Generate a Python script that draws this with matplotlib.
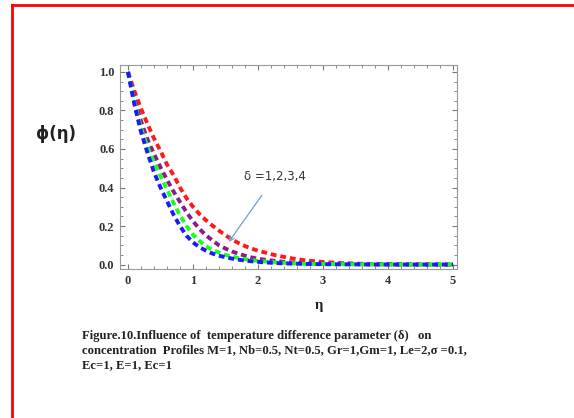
import matplotlib

matplotlib.use("Agg")
import matplotlib.pyplot as plt  # noqa: E402
from matplotlib.lines import Line2D  # noqa: E402
from matplotlib.ticker import MultipleLocator  # noqa: E402

eta = [0.0, 0.1, 0.2, 0.3, 0.4, 0.5, 0.6, 0.7, 0.8, 0.9, 1.0,
       1.1, 1.2, 1.3, 1.4, 1.5, 1.6, 1.7, 1.8, 1.9, 2.0,
       2.25, 2.5, 2.75, 3.0, 3.25, 3.5, 3.75, 4.0, 4.25, 4.5, 4.75, 5.0]

phi_d1 = [1.0, 0.90, 0.81, 0.73, 0.655, 0.59, 0.52, 0.465, 0.40, 0.345, 0.30,
          0.262, 0.230, 0.202, 0.176, 0.152, 0.130, 0.112, 0.096, 0.083, 0.072,
          0.050, 0.033, 0.021, 0.013, 0.008, 0.005, 0.003, 0.002, 0.001, 0.001, 0.0, 0.0]
phi_d2 = [1.0, 0.86, 0.745, 0.65, 0.575, 0.505, 0.44, 0.38, 0.325, 0.272, 0.225,
          0.185, 0.152, 0.125, 0.100, 0.083, 0.068, 0.056, 0.046, 0.037, 0.030,
          0.019, 0.011, 0.007, 0.004, 0.003, 0.002, 0.001, 0.001, 0.0, 0.0, 0.0, 0.0]
phi_d3 = [1.0, 0.84, 0.71, 0.61, 0.53, 0.46, 0.39, 0.32, 0.255, 0.20, 0.155,
          0.122, 0.095, 0.076, 0.062, 0.050, 0.041, 0.034, 0.028, 0.023, 0.019,
          0.012, 0.007, 0.004, 0.003, 0.002, 0.001, 0.001, 0.0, 0.0, 0.0, 0.0, 0.0]
phi_d4 = [1.0, 0.83, 0.69, 0.58, 0.48, 0.40, 0.33, 0.26, 0.20, 0.15, 0.115,
          0.090, 0.072, 0.057, 0.046, 0.038, 0.031, 0.025, 0.021, 0.017, 0.014,
          0.008, 0.005, 0.003, 0.002, 0.001, 0.001, 0.0, 0.0, 0.0, 0.0, 0.0, 0.0]

series = [(phi_d1, "#ff1a1a"), (phi_d2, "#8b1a8b"), (phi_d3, "#1aff1a"), (phi_d4, "#1a1aff")]

caption = ("Figure.10.Influence of  temperature difference parameter (\u03b4)   on\n"
           "concentration  Profiles M=1, Nb=0.5, Nt=0.5, Gr=1,Gm=1, Le=2,\u03c3 =0.1,\n"
           "Ec=1, E=1, Ec=1")

fig = plt.figure(figsize=(5.74, 4.18), dpi=100)
ax = fig.add_axes([0.209, 0.3565, 0.587, 0.488])

for values, color in series:
    ax.plot(eta, values, color=color, linewidth=2.8, dashes=(1.5, 1.0))

ax.set_xlim(-0.123, 5.06)
ax.set_ylim(-0.023, 1.036)
ax.xaxis.set_major_locator(MultipleLocator(1))
ax.xaxis.set_minor_locator(MultipleLocator(0.2))
ax.yaxis.set_major_locator(MultipleLocator(0.2))
ax.yaxis.set_minor_locator(MultipleLocator(0.05))
ax.tick_params(which="both", direction="in", top=True, right=True, color="#777777")
ax.tick_params(which="major", length=3.5, width=0.8, pad=4)
ax.tick_params(which="minor", length=2, width=0.6)
for spine in ax.spines.values():
    spine.set_color("#999999")
    spine.set_linewidth(0.8)
for label in ax.get_xticklabels() + ax.get_yticklabels():
    label.set_fontfamily("Liberation Serif")
    label.set_fontweight("bold")
    label.set_fontsize(9)
    label.set_color("#333333")

fig.text(0.097, 0.68, "\u03d5(\u03b7)", fontsize=12, fontweight="bold",
         family="DejaVu Sans", ha="center", va="center", color="#222222")
fig.text(0.555, 0.27, "\u03b7", fontsize=10.5, fontweight="bold",
         family="Liberation Serif", ha="center", va="center", color="#222222")

ax.annotate("\u03b4 =1,2,3,4", xy=(1.55, 0.117), xytext=(2.26, 0.455),
            fontsize=8.5, family="DejaVu Sans", color="#333333", ha="center", va="center",
            arrowprops=dict(arrowstyle="->", color="#6f9fd8", lw=0.9,
                            shrinkA=8, shrinkB=0))

fig.text(0.143, 0.162, caption, fontsize=9.1, fontweight="bold",
         family="Liberation Serif", ha="left", va="center", linespacing=1.3,
         color="#222222")

fig.add_artist(Line2D([11.5 / 574, 1.0], [1 - 5 / 418, 1 - 5 / 418],
                      transform=fig.transFigure, color="#ff0000", linewidth=2))
fig.add_artist(Line2D([11.5 / 574, 11.5 / 574], [0.0, 1 - 5 / 418],
                      transform=fig.transFigure, color="#ff0000", linewidth=2))

fig.savefig("out.png", dpi=100)
